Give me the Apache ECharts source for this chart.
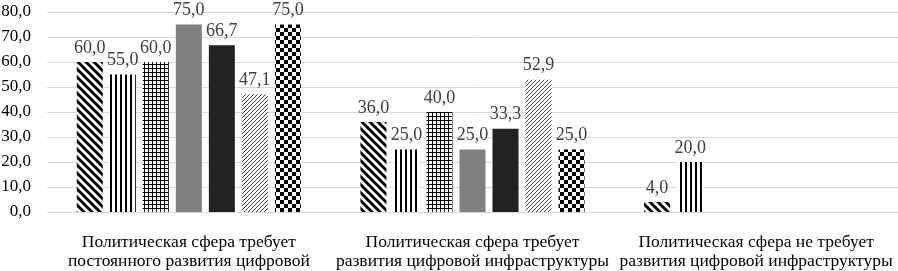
<!DOCTYPE html>
<html>
<head>
    <meta charset="utf-8">
    <script src="https://cdn.jsdelivr.net/npm/echarts@6/dist/echarts.min.js"></script>
    <style>
        html, body { margin: 0; padding: 0; background: #fff; }
    </style>
</head>
<body>
    <div id="main" style="width: 898px;height:271px;"></div>
    <script type="text/javascript">
        // категории
        var categories = [
            'Политическая сфера требует\nпостоянного развития цифровой',
            'Политическая сфера требует\nразвития цифровой инфраструктуры',
            'Политическая сфера не требует\nразвития цифровой инфраструктуры'
        ];
        // значения рядов (7 штрихованных столбцов в каждой группе)
        var s1 = [60.0, 36.0, 4.0];
        var s2 = [55.0, 25.0, 20.0];
        var s3 = [60.0, 40.0, null];
        var s4 = [75.0, 25.0, null];
        var s5 = [66.7, 33.3, null];
        var s6 = [47.1, 52.9, null];
        var s7 = [75.0, 25.0, null];
        var yTicks = { min: 0, max: 80, interval: 10 };

        var FONT = '"Liberation Serif", "Times New Roman", serif';

        function makeTile(w, h, draw) {
            var c = document.createElement('canvas');
            c.width = w; c.height = h;
            var ctx = c.getContext('2d');
            ctx.fillStyle = '#fff';
            ctx.fillRect(0, 0, w, h);
            draw(ctx);
            return { image: c, repeat: 'repeat' };
        }

        // широкие диагональные полосы "\"
        var patDiag = makeTile(8, 8, function(ctx) {
            ctx.strokeStyle = '#000';
            ctx.lineWidth = 3;
            for (var k = -8; k <= 8; k += 8) {
                ctx.beginPath();
                ctx.moveTo(k - 2, -2);
                ctx.lineTo(k + 10, 10);
                ctx.stroke();
            }
        });
        // вертикальные линии
        var patVert = makeTile(5, 4, function(ctx) {
            ctx.fillStyle = '#000';
            ctx.fillRect(0, 0, 2, 4);
        });
        // сетка
        var patGrid = makeTile(4, 4, function(ctx) {
            ctx.fillStyle = '#000';
            ctx.fillRect(0, 0, 1, 4);
            ctx.fillRect(0, 0, 4, 1);
        });
        // тонкие диагональные полосы "/"
        var patThin = makeTile(4, 4, function(ctx) {
            ctx.strokeStyle = '#444';
            ctx.lineWidth = 1;
            for (var k = -4; k <= 8; k += 4) {
                ctx.beginPath();
                ctx.moveTo(k, 4);
                ctx.lineTo(k + 4, 0);
                ctx.stroke();
            }
        });
        // шахматка
        var patCheck = makeTile(8, 8, function(ctx) {
            ctx.fillStyle = '#000';
            ctx.fillRect(0, 0, 4, 4);
            ctx.fillRect(4, 4, 4, 4);
        });

        var fills = [patDiag, patVert, patGrid, '#808080', '#222222', patThin, patCheck];
        var data = [s1, s2, s3, s4, s5, s6, s7];

        var series = data.map(function(d, i) {
            return {
                type: 'bar',
                data: d,
                barWidth: 26,
                barGap: '27%',
                itemStyle: { color: fills[i] },
                label: {
                    show: true,
                    position: 'top',
                    distance: 5,
                    color: '#404040',
                    fontFamily: FONT,
                    fontSize: 18,
                    formatter: function(p) {
                        return p.value == null ? '' : p.value.toFixed(1).replace('.', ',');
                    }
                }
            };
        });

        var option = {
            animation: false,
            grid: { left: 47, right: 0, top: 12, bottom: 59, outerBoundsMode: 'none' },
            xAxis: {
                type: 'category',
                data: categories,
                axisLine: { show: false },
                axisTick: { show: false },
                axisLabel: {
                    interval: 0,
                    margin: 21,
                    color: '#000',
                    fontFamily: FONT,
                    fontSize: 17.5,
                    lineHeight: 19
                }
            },
            yAxis: {
                type: 'value',
                min: yTicks.min,
                max: yTicks.max,
                interval: yTicks.interval,
                axisLine: { show: false },
                axisTick: { show: false },
                splitLine: { lineStyle: { color: '#d9d9d9', width: 1 } },
                axisLabel: {
                    margin: 16,
                    color: '#000',
                    fontFamily: FONT,
                    fontSize: 17,
                    formatter: function(v) { return v.toFixed(1).replace('.', ','); }
                }
            },
            series: series
        };

        var myChart = echarts.init(document.getElementById('main'));
        myChart.setOption(option);
    </script>
</body>
</html>
